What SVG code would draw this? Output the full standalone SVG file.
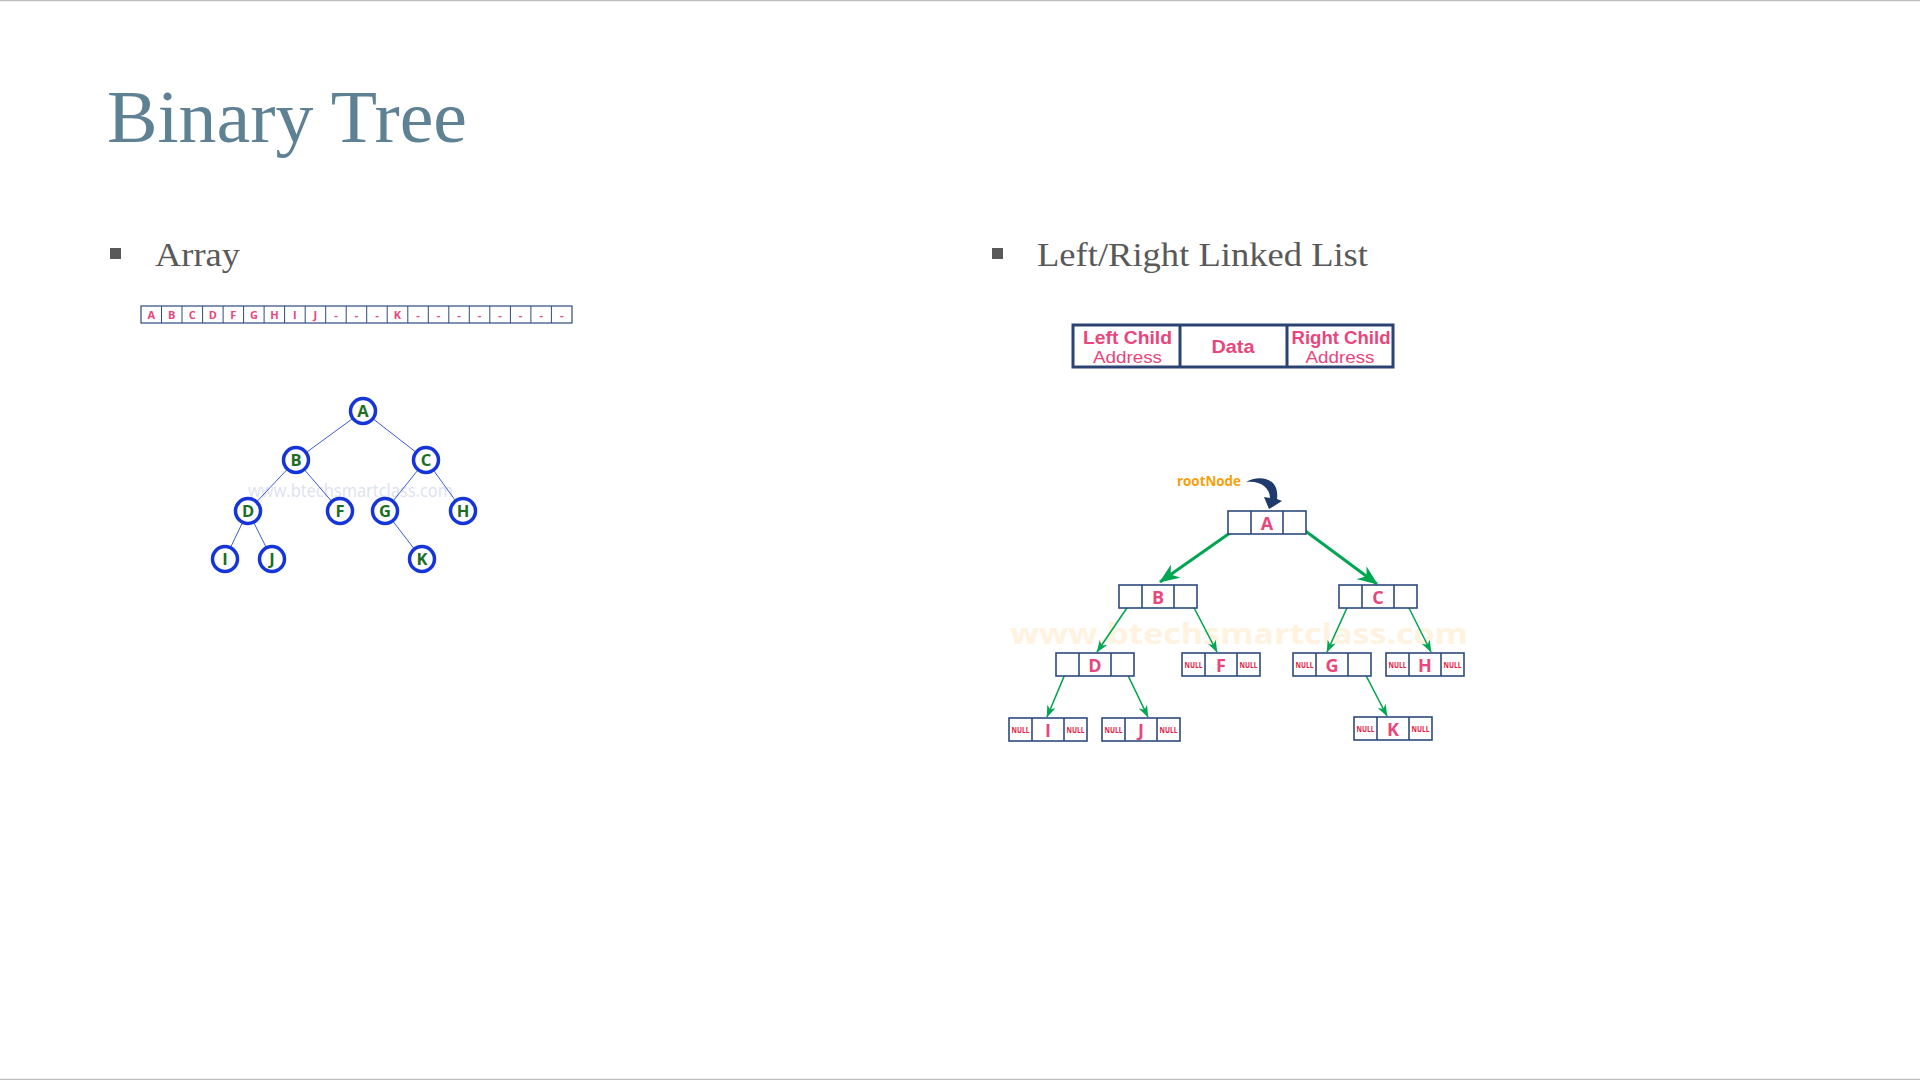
<svg xmlns="http://www.w3.org/2000/svg" width="1920" height="1080" viewBox="0 0 1920 1080">
  <defs>
    <style>
      .title { font-family: "Liberation Serif", "DejaVu Serif", serif; font-size: 74px; fill: #5E8294; }
      .bullet-text { font-family: "Liberation Serif", "DejaVu Serif", serif; font-size: 34px; fill: #595959; }
      .bullet { fill: #595959; }
      .cell { fill: #ffffff; stroke: #2E4A7E; stroke-width: 1.2; }
      .cell-div { stroke: #2E4A7E; stroke-width: 1; }
      .cell-txt { font-family: "Open Sans", "DejaVu Sans", sans-serif; font-weight: 700; font-size: 11px; fill: #E8467C; text-anchor: middle; }
      .edge { stroke: #3D5CD8; stroke-width: 1; fill: none; }
      .circ { fill: #ffffff; stroke: #1535D8; stroke-width: 3.5; }
      .circ-txt { font-family: "Open Sans", "DejaVu Sans", sans-serif; font-weight: 700; font-size: 16.5px; fill: #1B6E22; text-anchor: middle; }
      .wm-left { font-family: "Open Sans", "DejaVu Sans", sans-serif; font-size: 18px; fill: #DDE2F1; }
      .wm-right { font-family: "Open Sans", "DejaVu Sans", sans-serif; font-weight: 700; font-size: 28px; fill: #FFF2DF; }
      .lay { fill: #ffffff; stroke: #2B4373; stroke-width: 3; }
      .lay-div { stroke: #2B4373; stroke-width: 3; }
      .lay-b { font-family: "Liberation Sans", "DejaVu Sans", sans-serif; font-weight: 700; font-size: 18px; fill: #E8467C; text-anchor: middle; }
      .lay-r { font-family: "Liberation Sans", "DejaVu Sans", sans-serif; font-size: 17px; fill: #E8467C; text-anchor: middle; }
      .node { fill: #ffffff; stroke: #2E4A7E; stroke-width: 1.6; }
      .node-div { stroke: #2E4A7E; stroke-width: 1.6; }
      .node-txt { font-family: "Open Sans", "DejaVu Sans", sans-serif; font-weight: 700; font-size: 18px; fill: #E8467C; text-anchor: middle; }
      .null { font-family: "Open Sans", "DejaVu Sans", sans-serif; font-weight: 700; font-size: 8px; fill: #E3193F; text-anchor: middle; }
      .root-lbl { font-family: "Open Sans", "DejaVu Sans", sans-serif; font-weight: 700; font-size: 13.5px; fill: #F5A10A; }
      .link-big { stroke: #00A651; stroke-width: 3; fill: none; }
      .link-small { stroke: #00A651; stroke-width: 1.6; fill: none; }
    </style>
    <marker id="head-big" viewBox="0 0 20 16" refX="19" refY="8" markerWidth="20" markerHeight="16" markerUnits="userSpaceOnUse" orient="auto">
      <path d="M0,0 L20,8 L0,16 L6,8 Z" fill="#00A651"/>
    </marker>
    <marker id="head-small" viewBox="0 0 12 9" refX="11.5" refY="4.5" markerWidth="12" markerHeight="9" markerUnits="userSpaceOnUse" orient="auto">
      <path d="M0,0 L12,4.5 L0,9 L3.5,4.5 Z" fill="#00A651"/>
    </marker>
  </defs>

  <rect x="0" y="0" width="1920" height="1080" fill="#ffffff"/>
  <line x1="0" y1="0.5" x2="1920" y2="0.5" stroke="#BFBFBF" stroke-width="1.5"/>
  <line x1="0" y1="1079.5" x2="1920" y2="1079.5" stroke="#BFBFBF" stroke-width="1.5"/>

  <!-- Heading -->
  <text class="title" x="107" y="142" textLength="360" lengthAdjust="spacingAndGlyphs">Binary Tree</text>

  <!-- Left column: array representation -->
  <rect class="bullet" x="110" y="248" width="11" height="11"/>
  <text class="bullet-text" x="155" y="266" textLength="85" lengthAdjust="spacingAndGlyphs">Array</text>

  <g id="array">
    <rect class="cell" x="141" y="306" width="431" height="17"/>
    <g class="cell-div">
      <line x1="161.5" y1="306" x2="161.5" y2="323"/>
      <line x1="182.0" y1="306" x2="182.0" y2="323"/>
      <line x1="202.6" y1="306" x2="202.6" y2="323"/>
      <line x1="223.1" y1="306" x2="223.1" y2="323"/>
      <line x1="243.6" y1="306" x2="243.6" y2="323"/>
      <line x1="264.1" y1="306" x2="264.1" y2="323"/>
      <line x1="284.6" y1="306" x2="284.6" y2="323"/>
      <line x1="305.2" y1="306" x2="305.2" y2="323"/>
      <line x1="325.7" y1="306" x2="325.7" y2="323"/>
      <line x1="346.2" y1="306" x2="346.2" y2="323"/>
      <line x1="366.7" y1="306" x2="366.7" y2="323"/>
      <line x1="387.2" y1="306" x2="387.2" y2="323"/>
      <line x1="407.8" y1="306" x2="407.8" y2="323"/>
      <line x1="428.3" y1="306" x2="428.3" y2="323"/>
      <line x1="448.8" y1="306" x2="448.8" y2="323"/>
      <line x1="469.3" y1="306" x2="469.3" y2="323"/>
      <line x1="489.8" y1="306" x2="489.8" y2="323"/>
      <line x1="510.4" y1="306" x2="510.4" y2="323"/>
      <line x1="530.9" y1="306" x2="530.9" y2="323"/>
      <line x1="551.4" y1="306" x2="551.4" y2="323"/>
    </g>
    <g class="cell-txt">
      <text x="151.3" y="319">A</text>
      <text x="171.8" y="319">B</text>
      <text x="192.3" y="319">C</text>
      <text x="212.8" y="319">D</text>
      <text x="233.3" y="319">F</text>
      <text x="253.9" y="319">G</text>
      <text x="274.4" y="319">H</text>
      <text x="294.9" y="319">I</text>
      <text x="315.4" y="319">J</text>
      <text x="336.0" y="319">-</text>
      <text x="356.5" y="319">-</text>
      <text x="377.0" y="319">-</text>
      <text x="397.5" y="319">K</text>
      <text x="418.0" y="319">-</text>
      <text x="438.6" y="319">-</text>
      <text x="459.1" y="319">-</text>
      <text x="479.6" y="319">-</text>
      <text x="500.1" y="319">-</text>
      <text x="520.6" y="319">-</text>
      <text x="541.2" y="319">-</text>
      <text x="561.7" y="319">-</text>
    </g>
  </g>

  <!-- Left column: circle tree -->
  <text class="wm-left" x="248" y="497" textLength="205" lengthAdjust="spacingAndGlyphs">www.btechsmartclass.com</text>

  <g id="tree-edges">
    <line class="edge" x1="363" y1="411" x2="296" y2="460"/>
    <line class="edge" x1="363" y1="411" x2="426" y2="460"/>
    <line class="edge" x1="296" y1="460" x2="248" y2="511"/>
    <line class="edge" x1="296" y1="460" x2="340" y2="511"/>
    <line class="edge" x1="426" y1="460" x2="385" y2="511"/>
    <line class="edge" x1="426" y1="460" x2="463" y2="511"/>
    <line class="edge" x1="248" y1="511" x2="225" y2="559"/>
    <line class="edge" x1="248" y1="511" x2="272" y2="559"/>
    <line class="edge" x1="385" y1="511" x2="422" y2="559"/>
  </g>

  <g id="tnode-A"><circle class="circ" cx="363" cy="411" r="12.5"/><text class="circ-txt" x="363" y="417">A</text></g>
  <g id="tnode-B"><circle class="circ" cx="296" cy="460" r="12.5"/><text class="circ-txt" x="296" y="466">B</text></g>
  <g id="tnode-C"><circle class="circ" cx="426" cy="460" r="12.5"/><text class="circ-txt" x="426" y="466">C</text></g>
  <g id="tnode-D"><circle class="circ" cx="248" cy="511" r="12.5"/><text class="circ-txt" x="248" y="517">D</text></g>
  <g id="tnode-F"><circle class="circ" cx="340" cy="511" r="12.5"/><text class="circ-txt" x="340" y="517">F</text></g>
  <g id="tnode-G"><circle class="circ" cx="385" cy="511" r="12.5"/><text class="circ-txt" x="385" y="517">G</text></g>
  <g id="tnode-H"><circle class="circ" cx="463" cy="511" r="12.5"/><text class="circ-txt" x="463" y="517">H</text></g>
  <g id="tnode-I"><circle class="circ" cx="225" cy="559" r="12.5"/><text class="circ-txt" x="225" y="565">I</text></g>
  <g id="tnode-J"><circle class="circ" cx="272" cy="559" r="12.5"/><text class="circ-txt" x="272" y="565">J</text></g>
  <g id="tnode-K"><circle class="circ" cx="422" cy="559" r="12.5"/><text class="circ-txt" x="422" y="565">K</text></g>

  <!-- Right column: linked representation -->
  <rect class="bullet" x="992" y="248" width="11" height="11"/>
  <text class="bullet-text" x="1037" y="266" textLength="331" lengthAdjust="spacingAndGlyphs">Left/Right Linked List</text>

  <g id="node-layout">
    <rect class="lay" x="1073" y="325" width="320" height="42"/>
    <line class="lay-div" x1="1180" y1="325" x2="1180" y2="367"/>
    <line class="lay-div" x1="1287" y1="325" x2="1287" y2="367"/>
    <text class="lay-b" x="1127.5" y="344" textLength="89" lengthAdjust="spacingAndGlyphs">Left Child</text>
    <text class="lay-r" x="1127.5" y="363" textLength="69" lengthAdjust="spacingAndGlyphs">Address</text>
    <text class="lay-b" x="1233" y="353" textLength="43" lengthAdjust="spacingAndGlyphs">Data</text>
    <text class="lay-b" x="1341" y="344" textLength="99" lengthAdjust="spacingAndGlyphs">Right Child</text>
    <text class="lay-r" x="1340" y="363" textLength="69" lengthAdjust="spacingAndGlyphs">Address</text>
  </g>

  <text class="wm-right" x="1010" y="644" textLength="458" lengthAdjust="spacingAndGlyphs">www.btechsmartclass.com</text>

  <!-- root pointer -->
  <g id="root-pointer">
    <text class="root-lbl" x="1177" y="486" textLength="64" lengthAdjust="spacingAndGlyphs">rootNode</text>
    <path d="M1246,482 C1257,475 1280,476 1277,499 L1282,501 L1269,509 L1264,497 L1270,498 C1270,487 1259,480 1246,482 Z" fill="#1F3A6C"/>
  </g>

  <!-- links -->
  <g id="links">
    <line class="link-big" x1="1237" y1="528" x2="1160" y2="582" marker-end="url(#head-big)"/>
    <line class="link-big" x1="1296" y1="524" x2="1377" y2="584" marker-end="url(#head-big)"/>
    <line class="link-small" x1="1133" y1="599" x2="1097" y2="652" marker-end="url(#head-small)"/>
    <line class="link-small" x1="1189" y1="598" x2="1217" y2="652" marker-end="url(#head-small)"/>
    <line class="link-small" x1="1351" y1="599" x2="1327" y2="652" marker-end="url(#head-small)"/>
    <line class="link-small" x1="1404" y1="598" x2="1431" y2="652" marker-end="url(#head-small)"/>
    <line class="link-small" x1="1068" y1="667" x2="1047" y2="717" marker-end="url(#head-small)"/>
    <line class="link-small" x1="1122" y1="663" x2="1148" y2="717" marker-end="url(#head-small)"/>
    <line class="link-small" x1="1360" y1="664" x2="1387" y2="716" marker-end="url(#head-small)"/>
  </g>

  <!-- linked nodes: [left | data | right] -->
  <g id="lnode-A" transform="translate(1228,511)">
    <rect class="node" width="78" height="23"/><line class="node-div" x1="23" y1="0" x2="23" y2="23"/><line class="node-div" x1="55" y1="0" x2="55" y2="23"/>
    <text class="node-txt" x="39" y="18.5">A</text>
  </g>
  <g id="lnode-B" transform="translate(1119,585)">
    <rect class="node" width="78" height="23"/><line class="node-div" x1="23" y1="0" x2="23" y2="23"/><line class="node-div" x1="55" y1="0" x2="55" y2="23"/>
    <text class="node-txt" x="39" y="18.5">B</text>
  </g>
  <g id="lnode-C" transform="translate(1339,585)">
    <rect class="node" width="78" height="23"/><line class="node-div" x1="23" y1="0" x2="23" y2="23"/><line class="node-div" x1="55" y1="0" x2="55" y2="23"/>
    <text class="node-txt" x="39" y="18.5">C</text>
  </g>
  <g id="lnode-D" transform="translate(1056,653)">
    <rect class="node" width="78" height="23"/><line class="node-div" x1="23" y1="0" x2="23" y2="23"/><line class="node-div" x1="55" y1="0" x2="55" y2="23"/>
    <text class="node-txt" x="39" y="18.5">D</text>
  </g>
  <g id="lnode-F" transform="translate(1182,653)">
    <rect class="node" width="78" height="23"/><line class="node-div" x1="23" y1="0" x2="23" y2="23"/><line class="node-div" x1="55" y1="0" x2="55" y2="23"/>
    <text class="null" x="11.5" y="14.5" textLength="18" lengthAdjust="spacingAndGlyphs">NULL</text>
    <text class="node-txt" x="39" y="18.5">F</text>
    <text class="null" x="66.5" y="14.5" textLength="18" lengthAdjust="spacingAndGlyphs">NULL</text>
  </g>
  <g id="lnode-G" transform="translate(1293,653)">
    <rect class="node" width="78" height="23"/><line class="node-div" x1="23" y1="0" x2="23" y2="23"/><line class="node-div" x1="55" y1="0" x2="55" y2="23"/>
    <text class="null" x="11.5" y="14.5" textLength="18" lengthAdjust="spacingAndGlyphs">NULL</text>
    <text class="node-txt" x="39" y="18.5">G</text>
  </g>
  <g id="lnode-H" transform="translate(1386,653)">
    <rect class="node" width="78" height="23"/><line class="node-div" x1="23" y1="0" x2="23" y2="23"/><line class="node-div" x1="55" y1="0" x2="55" y2="23"/>
    <text class="null" x="11.5" y="14.5" textLength="18" lengthAdjust="spacingAndGlyphs">NULL</text>
    <text class="node-txt" x="39" y="18.5">H</text>
    <text class="null" x="66.5" y="14.5" textLength="18" lengthAdjust="spacingAndGlyphs">NULL</text>
  </g>
  <g id="lnode-I" transform="translate(1009,718)">
    <rect class="node" width="78" height="23"/><line class="node-div" x1="23" y1="0" x2="23" y2="23"/><line class="node-div" x1="55" y1="0" x2="55" y2="23"/>
    <text class="null" x="11.5" y="14.5" textLength="18" lengthAdjust="spacingAndGlyphs">NULL</text>
    <text class="node-txt" x="39" y="18.5">I</text>
    <text class="null" x="66.5" y="14.5" textLength="18" lengthAdjust="spacingAndGlyphs">NULL</text>
  </g>
  <g id="lnode-J" transform="translate(1102,718)">
    <rect class="node" width="78" height="23"/><line class="node-div" x1="23" y1="0" x2="23" y2="23"/><line class="node-div" x1="55" y1="0" x2="55" y2="23"/>
    <text class="null" x="11.5" y="14.5" textLength="18" lengthAdjust="spacingAndGlyphs">NULL</text>
    <text class="node-txt" x="39" y="18.5">J</text>
    <text class="null" x="66.5" y="14.5" textLength="18" lengthAdjust="spacingAndGlyphs">NULL</text>
  </g>
  <g id="lnode-K" transform="translate(1354,717)">
    <rect class="node" width="78" height="23"/><line class="node-div" x1="23" y1="0" x2="23" y2="23"/><line class="node-div" x1="55" y1="0" x2="55" y2="23"/>
    <text class="null" x="11.5" y="14.5" textLength="18" lengthAdjust="spacingAndGlyphs">NULL</text>
    <text class="node-txt" x="39" y="18.5">K</text>
    <text class="null" x="66.5" y="14.5" textLength="18" lengthAdjust="spacingAndGlyphs">NULL</text>
  </g>
</svg>
